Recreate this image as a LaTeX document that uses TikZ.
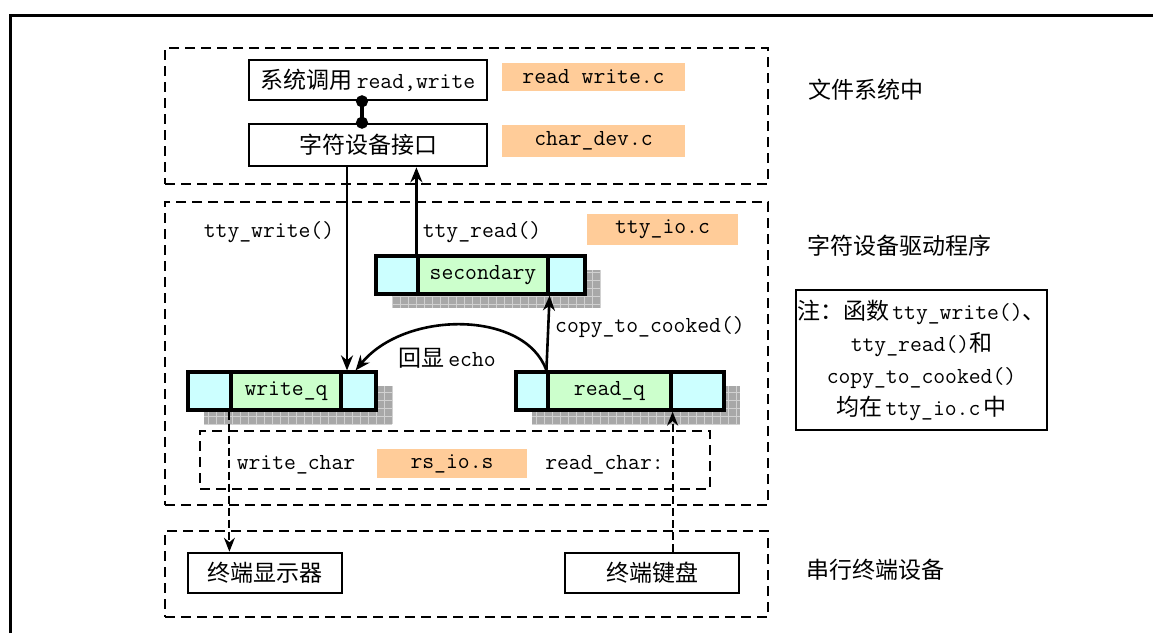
\documentclass[tikz,border=0pt]{standalone}
\usepackage{fontspec}
\newfontfamily\cjk{Noto Sans CJK SC}
\usetikzlibrary{arrows.meta}
\definecolor{qcyan}{RGB}{204,255,255}
\definecolor{qgreen}{RGB}{204,255,204}
\definecolor{forange}{RGB}{255,204,153}
\newcommand{\shadowrect}[4]{%
  \fill[black!34] (#1,#2) rectangle (#3,#4);
  \draw[black!18, line width=0.8pt, step=8pt] (#1,#2) grid (#3,#4);}
\begin{document}
\begin{tikzpicture}[x=1pt, y=-1pt, font=\ttfamily\fontsize{23}{28}\selectfont,
  box/.style={draw, line width=2.6pt, inner sep=0pt},
  ofile/.style={fill=forange, inner sep=0pt},
  dbox/.style={draw, line width=2.6pt, dash pattern=on 10pt off 6pt, inner sep=0pt},
  qbox/.style={draw, line width=3.2pt, fill=qcyan, inner sep=0pt, minimum height=38pt},
  qmid/.style={draw, line width=3.2pt, fill=qgreen, inner sep=0pt, minimum height=38pt},
  arr/.style={line width=2.6pt, -{Stealth[length=15pt, width=12pt]}},
  darr/.style={line width=2pt, dash pattern=on 8pt off 4pt, -{Stealth[length=14pt, width=11pt]}},
  dot/.style={line width=3.2pt, {Circle[length=12pt]}-{Circle[length=12pt]},
              shorten <=-6pt, shorten >=-6pt},
  lbl/.style={inner sep=0pt}]
\useasboundingbox (0,0) rectangle (1153,633);
% outer frame
\draw[line width=3pt] (10,633) -- (10,15) -- (1153,15);

% dashed groups
\node[dbox, minimum width=603, minimum height=136] (g1) at (466.5,116) {};
\node[dbox, minimum width=603, minimum height=303] (g2) at (466.5,353.5) {};
\node[dbox, minimum width=510, minimum height=58] (g3) at (455,460) {};
\node[dbox, minimum width=603, minimum height=86] (g4) at (466.5,574) {};

% file system part
\node[box, minimum width=238, minimum height=40] (sys) at (368,80) {{\cjk 系统调用}\hspace{4pt}read,write};
\node[ofile, minimum width=183, minimum height=28] (rw) at (593.5,77) {read write.c};
\node[box, minimum width=238, minimum height=42] (cdi) at (368,145) {\cjk 字符设备接口};
\node[ofile, minimum width=183, minimum height=32] (cd) at (593.5,141) {char\_dev.c};
\draw[dot] ([xshift=-6pt]sys.south) -- ([xshift=-6pt]cdi.north);

% shadows
\shadowrect{392}{270}{601}{308}
\shadowrect{204}{386}{392}{424}
\shadowrect{532}{386}{740}{424}

% queues
\node[qbox, minimum width=209] (sq) at (480.5,275) {};
\node[qmid, minimum width=130] (sm) at (483,275) {secondary};
\node[qbox, minimum width=188] (wq) at (282,391) {};
\node[qmid, minimum width=110] (wm) at (286,391) {write\_q};
\node[qbox, minimum width=208] (rq) at (620,391) {};
\node[qmid, minimum width=123] (rm) at (609.5,391) {read\_q};

% driver labels
\node[lbl] (tw) at (269,232) {tty\_write()};
\node[lbl] (tr) at (482,232) {tty\_read()};
\node[ofile, minimum width=151, minimum height=31] (tio) at (662.5,229.5) {tty\_io.c};
\node[lbl] (ctc) at (650,327) {copy\_to\_cooked()};
\node[lbl] (echo) at (447,358) {{\cjk 回显}\hspace{4pt}echo};

% rs_io
\node[lbl] (wc) at (296,465) {write\_char};
\node[ofile, minimum width=150, minimum height=29] (rs) at (452,463.5) {rs\_io.s};
\node[lbl] (rc) at (604.5,465) {read\_char:};

% terminal devices
\node[box, minimum width=154, minimum height=40] (disp) at (265,573) {\cjk 终端显示器};
\node[box, minimum width=174, minimum height=40] (kb) at (652,573) {\cjk 终端键盘};

% right-hand labels
\node[lbl] (l1) at (866,90) {\cjk 文件系统中};
\node[lbl] (l2) at (899,246) {\cjk 字符设备驱动程序};
\node[lbl] (l3) at (875,570) {\cjk 串行终端设备};
\node[box, minimum width=251, minimum height=140, align=center,
      font=\ttfamily\fontsize{23}{32}\selectfont] (note) at (921.5,360)
  {{\cjk 注：函数}\hspace{3pt}tty\_write(){\cjk 、}\\
   tty\_read(){\cjk 和}\\
   copy\_to\_cooked()\\
   {\cjk 均在}\hspace{3pt}tty\_io.c\hspace{3pt}{\cjk 中}};

% connectors
\draw[arr] ([xshift=-21pt]cdi.south) -- ([xshift=-21pt]cdi.south |- wq.north);
\draw[arr] (sm.north west) -- (sm.north west |- cdi.south);
\draw[arr] (rm.north west) -- (sm.south east);
\draw[arr] (rm.north west) .. controls (525,310) and (405,310) .. ([xshift=-22pt]wq.north east);
\draw[darr] (wm.south west) -- (wm.south west |- disp.north);
\draw[darr] (rm.south east |- kb.north) -- (rm.south east);
\end{tikzpicture}
\end{document}
